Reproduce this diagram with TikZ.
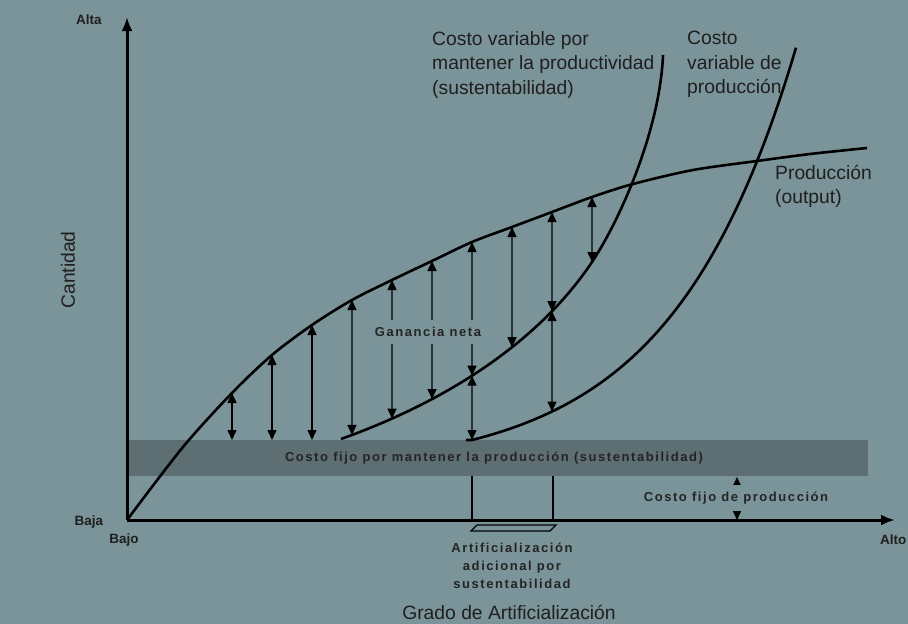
\documentclass[tikz,border=0pt]{standalone}
\usepackage{fontspec}
\setmainfont{Liberation Sans}
\newfontfamily\tagfont[LetterSpace=12]{Liberation Sans}
\usetikzlibrary{arrows.meta, intersections}
\definecolor{chartbg}{RGB}{123,148,153}
\definecolor{bandgray}{RGB}{94,111,115}
\definecolor{inkgray}{RGB}{36,36,36}

\begin{document}
\begin{tikzpicture}[x=1pt, y=-1pt]
\tikzstyle{curve} = [draw, line width=2.6pt, line join=round]
\tikzstyle{axisline} = [draw, line width=3pt, -{Latex[length=14pt,width=11pt]}]
\tikzstyle{gain} = [draw, line width=1.4pt,
    {Triangle[length=10pt,width=9pt]}-{Triangle[length=10pt,width=9pt]}]
\tikzstyle{guide} = [draw, line width=1.3pt]
\tikzstyle{smalltext} = [font=\tagfont\bfseries\fontsize{13}{18}\selectfont,
    text=inkgray, inner sep=1pt]
\tikzstyle{bigtext} = [font=\fontsize{19.3}{24.5}\selectfont, text=black!88,
    align=left, inner sep=0pt]
\tikzstyle{axtext} = [font=\bfseries\fontsize{13.5}{16}\selectfont, text=black!88,
    inner sep=0pt]

\useasboundingbox [fill=chartbg] (0,0) rectangle (908,624);

% fixed cost band
\fill [bandgray] (127,440) rectangle (868,476);
\node [smalltext] (band) at (494,458) {Costo fijo por mantener la producción (sustentabilidad)};

% production curve
\coordinate (o) at (127,520);
\coordinate (p1) at (232,393);
\coordinate (p2) at (272,355);
\coordinate (p3) at (312,325);
\coordinate (p4) at (352,300);
\coordinate (p5) at (392,280);
\coordinate (p6) at (432,261);
\coordinate (p7) at (472,242);
\coordinate (p8) at (512,227);
\coordinate (p9) at (552,212);
\coordinate (p10) at (592,197);
\draw [curve] plot [smooth] coordinates {(o) (183,447) (p1) (p2) (p3) (p4) (p5) (p6)
    (p7) (p8) (p9) (p10) (633,184) (693,170) (757,161) (810,154) (867,148)};

% variable cost curves
\draw [curve, name path=sust] (341,439) .. controls (450,400) and (540,340) .. (592,262)
    .. controls (620,220) and (660,130) .. (663,55);
\coordinate (c7) at (472,440);
\draw [curve, name path=varc] (466,440) -- (c7)
    -- plot [domain=472:796, samples=60] (\x, {440-31.8*(exp(0.008*(\x-472))-1)});

% arrow ends
\coordinate (f1) at (232,440);
\coordinate (f2) at (272,440);
\coordinate (f3) at (312,440);
\path [name path=v4] (p4) -- ++(0,160);
\path [name path=v5] (p5) -- ++(0,160);
\path [name path=v6] (p6) -- ++(0,160);
\path [name path=v7] (p7) -- ++(0,160);
\path [name path=v8] (p8) -- ++(0,160);
\path [name path=v9] (p9) -- ++(0,220);
\path [name path=v10] (p10) -- ++(0,160);
\path [name intersections={of=sust and v4, by=s4}];
\path [name intersections={of=sust and v5, by=s5}];
\path [name intersections={of=sust and v6, by=s6}];
\path [name intersections={of=sust and v7, by=s7}];
\path [name intersections={of=sust and v8, by=s8}];
\path [name intersections={of=sust and v9, by=s9}];
\path [name intersections={of=sust and v10, by=s10}];
\path [name intersections={of=varc and v9, by=c9}];

% net gain arrows
\path [gain] (p1) -- (f1);
\path [gain] (p2) -- (f2);
\path [gain] (p3) -- (f3);
\path [gain] (p4) -- (s4);
\path [gain] (p5) -- (s5);
\path [gain] (p6) -- (s6);
\path [gain] (p7) -- (s7);
\path [gain] (s7) -- (c7);
\path [gain] (p8) -- (s8);
\path [gain] (p9) -- (s9);
\path [gain] (s9) -- (c9);
\path [gain] (p10) -- (s10);
\node [smalltext, fill=chartbg, inner ysep=7pt] (net) at (428,332) {Ganancia neta};

% extra artificialization
\coordinate (a1) at (472,476);
\coordinate (a2) at (472,520);
\coordinate (b1) at (553,476);
\coordinate (b2) at (553,520);
\path [guide] (a1) -- (a2);
\path [guide] (b1) -- (b2);
\draw [line width=1.2pt] (477,525) -- (556,525) -- (550,531) -- (471,531) -- cycle;
\node [smalltext, align=center] (extra) at (512,566) {Artificialización\\adicional por\\sustentabilidad};

% fixed production cost
\coordinate (k1) at (737,520);
\coordinate (k2) at (737,477);
\path [gain] (k1) -- (k2);
\node [smalltext, fill=chartbg, inner ysep=7pt] (fixed) at (736,498) {Costo fijo de producción};

% axes
\coordinate (ytop) at (127,17);
\coordinate (xend) at (895,520);
\path [axisline] (o) -- (ytop);
\path [axisline] (o) -- (xend);

\node [axtext] (alta) at (89,20) {Alta};
\node [axtext] (baja) at (89,522) {Baja};
\node [axtext] (bajo) at (124,540) {Bajo};
\node [axtext, anchor=west] (alto) at (880,540) {Alto};
\node [bigtext, rotate=90] (ylab) at (68,270) {Cantidad};
\node [bigtext] (xlab) at (509,612) {Grado de Artificialización};

\node [bigtext, anchor=north west] (sustlab) at (432,31) {Costo variable por\\mantener la productividad\\(sustentabilidad)};
\node [bigtext, anchor=north west] (costlab) at (687,31) {Costo\\variable de\\producción};
\node [bigtext, anchor=north west] (outlab) at (775,165) {Producción\\(output)};
\end{tikzpicture}
\end{document}
